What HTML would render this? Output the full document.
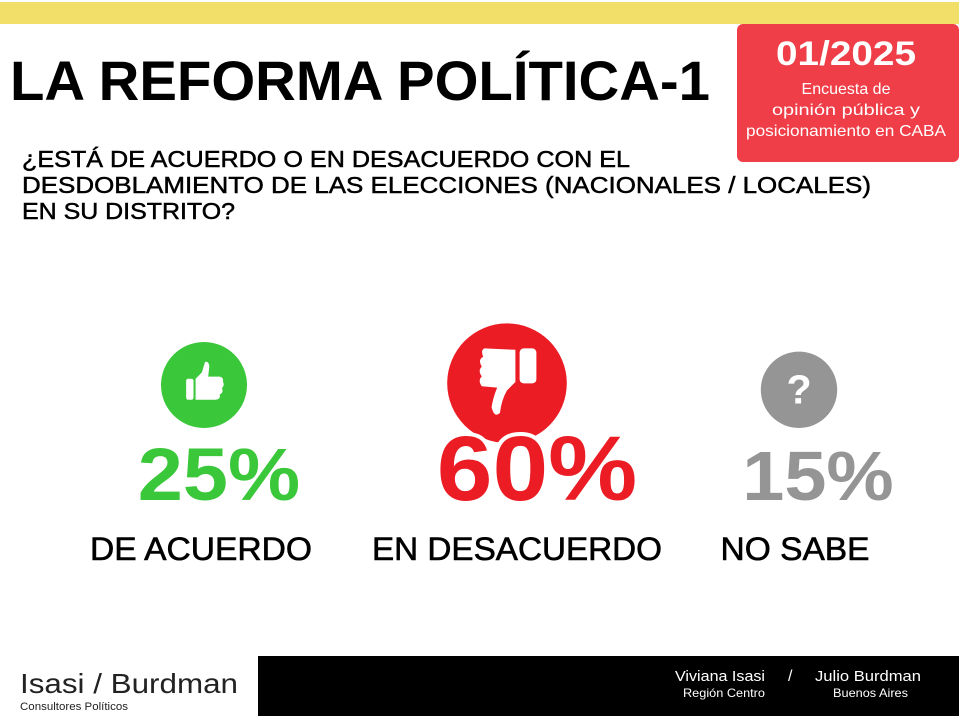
<!DOCTYPE html>
<html><head><meta charset="utf-8"><style>
html,body{margin:0;padding:0;background:#fff;}
svg{display:block;}
text{font-family:"Liberation Sans",sans-serif;}
</style></head><body>
<svg id="chart" width="959" height="716" viewBox="0 0 959 716">
  <rect x="0" y="2" width="959" height="22" fill="#f2df6a"/>
  <rect x="737" y="24" width="222" height="138" rx="6" fill="#ef3e47"/>
  <text x="846" y="65" text-anchor="middle" font-size="34" font-weight="bold" fill="#fff" textLength="140" lengthAdjust="spacingAndGlyphs">01/2025</text>
  <text x="846" y="94" text-anchor="middle" font-size="16" fill="#fff">Encuesta de</text>
  <text x="846" y="115" text-anchor="middle" font-size="16" fill="#fff" textLength="148" lengthAdjust="spacingAndGlyphs">opinión pública y</text>
  <text x="846" y="136" text-anchor="middle" font-size="16" fill="#fff" textLength="200" lengthAdjust="spacingAndGlyphs">posicionamiento en CABA</text>

  <text x="10" y="100" font-size="56" font-weight="bold" fill="#000" textLength="700" lengthAdjust="spacingAndGlyphs">LA REFORMA POLÍTICA-1</text>

  <g stroke="#000" stroke-width="0.5">
  <text x="22" y="167" font-size="23" fill="#000" textLength="608" lengthAdjust="spacingAndGlyphs">¿ESTÁ DE ACUERDO O EN DESACUERDO CON EL</text>
  <text x="22" y="193" font-size="23" fill="#000" textLength="849" lengthAdjust="spacingAndGlyphs">DESDOBLAMIENTO DE LAS ELECCIONES  (NACIONALES / LOCALES)</text>
  <text x="22" y="219" font-size="23" fill="#000" textLength="213" lengthAdjust="spacingAndGlyphs">EN SU DISTRITO?</text>
  </g>

  <g id="results"></g>

  <text x="20" y="693" font-size="28" fill="#222" textLength="218" lengthAdjust="spacingAndGlyphs">Isasi / Burdman</text>
  <text x="20" y="710" font-size="11" fill="#222" textLength="108" lengthAdjust="spacingAndGlyphs">Consultores Políticos</text>
  <rect x="258" y="656" width="701" height="60" fill="#000"/>
  <text x="675" y="681" font-size="15" fill="#fff" textLength="90" lengthAdjust="spacingAndGlyphs">Viviana Isasi</text>
  <text x="788" y="681" font-size="16" fill="#fff">/</text>
  <text x="815" y="681" font-size="15" fill="#fff" textLength="106" lengthAdjust="spacingAndGlyphs">Julio Burdman</text>
  <text x="683" y="697" font-size="12" fill="#fff" textLength="82" lengthAdjust="spacingAndGlyphs">Región Centro</text>
  <text x="833" y="697" font-size="12" fill="#fff" textLength="75" lengthAdjust="spacingAndGlyphs">Buenos Aires</text>
</svg>
<script>
const categories = ["DE ACUERDO", "EN DESACUERDO", "NO SABE"];
const values = [25, 60, 15];
const colors = ["#3ac73a", "#ec1c24", "#959595"];
const icons = ["up", "down", "question"];

const NS = "http://www.w3.org/2000/svg";
const g = document.getElementById("results");
const centers = [219, 537, 818];
const labelX = [201, 517, 795];
const labelW = [222, 290, 149];
function numSize(v){ return 62 + v * 0.5; }
function radius(v){ return 31 + v * 0.48; }
function mk(tag, attrs){ const e = document.createElementNS(NS, tag); for (const k in attrs) e.setAttribute(k, attrs[k]); return e; }

categories.forEach((cat, i) => {
  const cx = centers[i], v = values[i], r = radius(v);
  const grp = mk("g", {});
  
  
  const iconCx = i === 0 ? 204 : (i === 1 ? 507 : 799);
  const cy = 445 - r - (i === 1 ? 2 : 17);
  const circ = mk("circle", {cx: iconCx, cy: cy, r: r, fill: colors[i]});
  
  
  grp.appendChild(circ);
  const s = icons[i] === "down" ? 1.4 : Math.min(r / 39, 1.05);
  const ig = mk("g", {transform: `translate(${iconCx},${cy - (icons[i] === "down" ? 4 : 0)}) scale(${s})`, fill: "#fff"});
  
  
  if (icons[i] === "up") {
    ig.appendChild(mk("rect", {x: -17, y: -6, width: 7, height: 20, rx: 2}));
    ig.appendChild(mk("path", {d: "M-8 -6 L-2 -12 L1 -22 Q5 -23 5 -17 L4 -8 L15 -8 Q19 -7 18 -3 Q20 0 17 3 Q19 7 15 9 Q16 14 11 14 L-8 14 Z"}));
  } else if (icons[i] === "down") {
    ig.appendChild(mk("rect", {x: 9, y: -22, width: 12, height: 25, rx: 3}));
    ig.appendChild(mk("path", {d: "M-16 -22 L6 -21 L6 2 L0 8 Q-4 15 -5 24 Q-9 28 -11 20 Q-10 13 -7 6 L-18 5 Q-21 1 -18 -2 Q-21 -6 -18 -9 Q-21 -14 -17 -16 Q-19 -21 -16 -22 Z"}));
  } else {
    const q = mk("text", {x: 0, y: 14, "text-anchor": "middle", "font-size": 42, "font-weight": "bold", fill: "#fff"});
    q.textContent = "?";
    ig.appendChild(q);
  }
  grp.appendChild(ig);
  const fs = numSize(v);
  const num = mk("text", {x: cx, y: 500, "text-anchor": "middle", "font-size": fs, "font-weight": "bold", fill: colors[i], stroke: "#fff", "stroke-width": 8, "paint-order": "stroke", textLength: fs * 2.18, lengthAdjust: "spacingAndGlyphs"});
  
  
  num.textContent = v + "%";
  grp.appendChild(num);
  const lab = mk("text", {x: labelX[i], y: 560, "text-anchor": "middle", "font-size": 32, fill: "#000", stroke: "#000", "stroke-width": 0.6, textLength: labelW[i], lengthAdjust: "spacingAndGlyphs"});
  
  
  lab.textContent = cat;
  grp.appendChild(lab);
  g.appendChild(grp);
});
</script>
</body></html>
